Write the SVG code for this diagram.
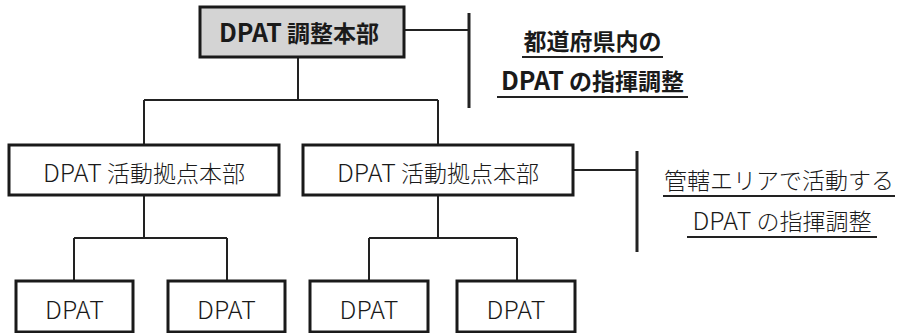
<svg xmlns="http://www.w3.org/2000/svg" width="903" height="333" viewBox="0 0 903 333">
<style>
.box{fill:#fff;stroke:#1a1a1a;stroke-width:3}
.top{fill:#d4d4d4}
.ln{stroke:#222;stroke-width:2;fill:none}
.bar{stroke:#222;stroke-width:3;fill:none}
.t{font-family:"Noto Sans CJK JP","Noto Sans",sans-serif;font-size:23px;fill:#1a1a1a;text-anchor:middle;font-weight:300}
.b{font-weight:bold}
.L{font-size:25px}
.ul{stroke:#222;stroke-width:2}
</style>
<rect width="903" height="333" fill="#fff"/>
<g id="connectors">
<path class="ln" d="M298 57V100M144 100H438M144 100V145M438 100V145"/>
<path class="ln" d="M144 195V238M74 238H227M74 238V281M227 238V281"/>
<path class="ln" d="M438 195V238M369 238H517M369 238V281M517 238V281"/>
<path class="ln" d="M404 30H469M573 170H637"/>
<path class="bar" d="M469 13V108M637 151V252"/>
</g>
<g id="hq">
<rect class="box top" x="200" y="7" width="204" height="50"/>
<text class="t b" x="299" y="42"><tspan class="L">DPAT</tspan> 調整本部</text>
</g>
<g id="base1">
<rect class="box" x="9" y="145" width="270" height="50"/>
<text class="t" x="144" y="182"><tspan class="L">DPAT</tspan> 活動拠点本部</text>
</g>
<g id="base2">
<rect class="box" x="303" y="145" width="270" height="50"/>
<text class="t" x="438" y="182"><tspan class="L">DPAT</tspan> 活動拠点本部</text>
</g>
<g id="dpat1">
<rect class="box" x="16" y="281" width="117" height="51"/>
<text class="t L" x="74.5" y="319">DPAT</text>
</g>
<g id="dpat2">
<rect class="box" x="168" y="281" width="117" height="51"/>
<text class="t L" x="226.5" y="319">DPAT</text>
</g>
<g id="dpat3">
<rect class="box" x="310" y="281" width="118" height="51"/>
<text class="t L" x="369" y="319">DPAT</text>
</g>
<g id="dpat4">
<rect class="box" x="457" y="281" width="118" height="51"/>
<text class="t L" x="516" y="319">DPAT</text>
</g>
<g id="note1">
<text class="t b" x="592.5" y="50">都道府県内の</text>
<line class="ul" x1="522" y1="57" x2="663" y2="57"/>
<text class="t b" x="592.5" y="90"><tspan class="L">DPAT</tspan> の指揮調整</text>
<line class="ul" x1="497" y1="97" x2="688" y2="97"/>
</g>
<g id="note2">
<text class="t" x="779" y="189">管轄エリアで活動する</text>
<line class="ul" x1="663" y1="196" x2="895" y2="196"/>
<text class="t" x="782" y="230"><tspan class="L">DPAT</tspan> の指揮調整</text>
<line class="ul" x1="687" y1="237" x2="877" y2="237"/>
</g>
</svg>
